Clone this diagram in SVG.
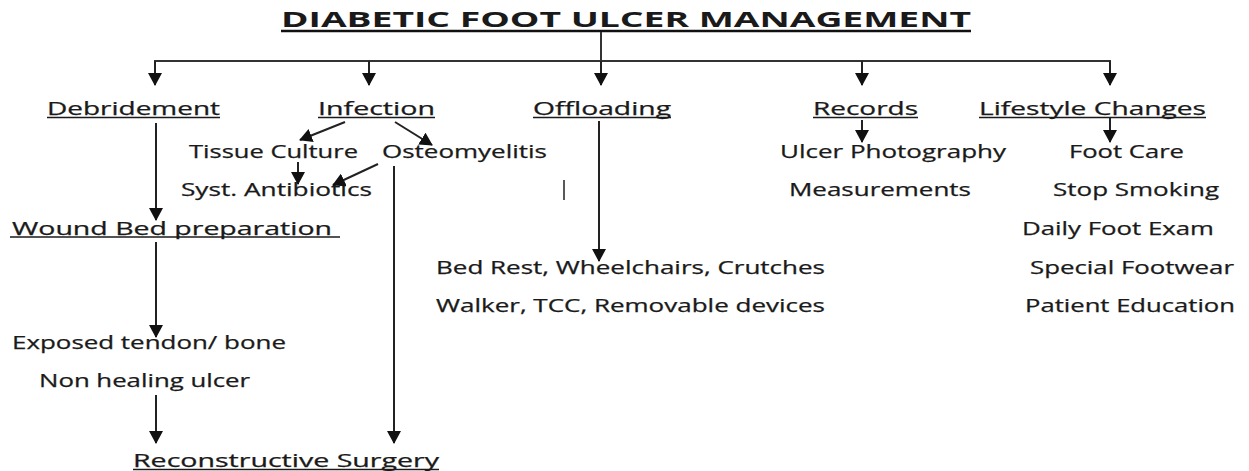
<svg xmlns="http://www.w3.org/2000/svg" width="1249" height="471" viewBox="0 0 1249 471">
<defs>
<style>
text{font-family:"Open Sans","Liberation Sans",sans-serif;fill:#1a1a1a;}
.t{font-size:18px;stroke:#1a1a1a;stroke-width:0.25;}
.h{font-size:22px;font-weight:bold;}
.ul{stroke:#1a1a1a;stroke-width:1.3;fill:none;}
.c{stroke:#222;stroke-width:2;fill:none;marker-end:url(#ah);}
.p{stroke:#333;stroke-width:2;fill:none;}
</style>
<marker id="ah" markerUnits="userSpaceOnUse" markerWidth="14" markerHeight="14" refX="12" refY="7" orient="auto">
<path d="M0,0 L13,7 L0,14 Z" fill="#111"/>
</marker>
</defs>
<rect width="1249" height="471" fill="#fff"/>

<g id="title">
<text class="h" x="281" y="27" textLength="690" lengthAdjust="spacingAndGlyphs">DIABETIC FOOT ULCER MANAGEMENT</text>
<line x1="281" y1="31" x2="971" y2="31" stroke="#111" stroke-width="2.4"/>
</g>

<g id="debridement">
<text class="t" x="47" y="115" textLength="173" lengthAdjust="spacingAndGlyphs">Debridement</text>
<line class="ul" x1="47" y1="117.5" x2="220" y2="117.5"/>
</g>
<g id="infection">
<text class="t" x="318" y="115" textLength="117" lengthAdjust="spacingAndGlyphs">Infection</text>
<line class="ul" x1="318" y1="117.5" x2="435" y2="117.5"/>
</g>
<g id="offloading">
<text class="t" x="533" y="115" textLength="138" lengthAdjust="spacingAndGlyphs">Offloading</text>
<line class="ul" x1="533" y1="117.5" x2="671" y2="117.5"/>
</g>
<g id="records">
<text class="t" x="813" y="115" textLength="105" lengthAdjust="spacingAndGlyphs">Records</text>
<line class="ul" x1="813" y1="117.5" x2="918" y2="117.5"/>
</g>
<g id="lifestyle">
<text class="t" x="979" y="115" textLength="227" lengthAdjust="spacingAndGlyphs">Lifestyle Changes</text>
<line class="ul" x1="979" y1="117.5" x2="1206" y2="117.5"/>
</g>

<g id="tissue-culture"><text class="t" x="189" y="157.5" textLength="169" lengthAdjust="spacingAndGlyphs">Tissue Culture</text></g>
<g id="osteomyelitis"><text class="t" x="382" y="157.5" textLength="165" lengthAdjust="spacingAndGlyphs">Osteomyelitis</text></g>
<g id="antibiotics"><text class="t" x="181" y="195.5" textLength="191" lengthAdjust="spacingAndGlyphs">Syst. Antibiotics</text></g>
<g id="ulcer-photography"><text class="t" x="780" y="157.5" textLength="226" lengthAdjust="spacingAndGlyphs">Ulcer Photography</text></g>
<g id="measurements"><text class="t" x="789" y="195.5" textLength="182" lengthAdjust="spacingAndGlyphs">Measurements</text></g>
<g id="foot-care"><text class="t" x="1069" y="157.5" textLength="115" lengthAdjust="spacingAndGlyphs">Foot Care</text></g>
<g id="stop-smoking"><text class="t" x="1053" y="195.5" textLength="166" lengthAdjust="spacingAndGlyphs">Stop Smoking</text></g>
<g id="daily-foot-exam"><text class="t" x="1022" y="235" textLength="192" lengthAdjust="spacingAndGlyphs">Daily Foot Exam</text></g>
<g id="special-footwear"><text class="t" x="1030" y="273.5" textLength="204" lengthAdjust="spacingAndGlyphs">Special Footwear</text></g>
<g id="patient-education"><text class="t" x="1025" y="311.5" textLength="210" lengthAdjust="spacingAndGlyphs">Patient Education</text></g>

<g id="wound-bed">
<text class="t" x="12" y="234.5" textLength="320" lengthAdjust="spacingAndGlyphs">Wound Bed preparation</text>
<line class="ul" x1="10" y1="237" x2="340" y2="237"/>
</g>
<g id="offloading-devices-1"><text class="t" x="436" y="273.5" textLength="389" lengthAdjust="spacingAndGlyphs">Bed Rest, Wheelchairs, Crutches</text></g>
<g id="offloading-devices-2"><text class="t" x="436" y="311.5" textLength="389" lengthAdjust="spacingAndGlyphs">Walker, TCC, Removable devices</text></g>
<g id="exposed"><text class="t" x="12" y="349" textLength="274" lengthAdjust="spacingAndGlyphs">Exposed tendon/ bone</text></g>
<g id="non-healing"><text class="t" x="39" y="386.5" textLength="211" lengthAdjust="spacingAndGlyphs">Non healing ulcer</text></g>
<g id="reconstructive">
<text class="t" x="133" y="466.5" textLength="306" lengthAdjust="spacingAndGlyphs">Reconstructive Surgery</text>
<line class="ul" x1="133" y1="469.5" x2="439" y2="469.5"/>
</g>

<g id="connectors">
<line class="p" x1="601" y1="32" x2="601" y2="61"/>
<line class="p" x1="154" y1="61" x2="1111" y2="61" stroke="#444"/>
<line class="c" x1="155" y1="61" x2="155" y2="85"/>
<line class="c" x1="369" y1="61" x2="369" y2="85"/>
<line class="c" x1="601" y1="61" x2="601" y2="85"/>
<line class="c" x1="862" y1="61" x2="862" y2="85"/>
<line class="c" x1="1110" y1="61" x2="1110" y2="85"/>
<line class="c" x1="156" y1="123" x2="156" y2="220"/>
<line class="c" x1="156" y1="242" x2="156" y2="337"/>
<line class="c" x1="156" y1="395" x2="156" y2="443"/>
<line class="c" x1="394" y1="166" x2="394" y2="443"/>
<line class="c" x1="345" y1="122" x2="300" y2="140"/>
<line class="c" x1="395" y1="122" x2="432" y2="145"/>
<line class="c" x1="298" y1="162" x2="298" y2="184"/>
<line class="c" x1="378" y1="164" x2="333" y2="185"/>
<line class="c" x1="599" y1="121" x2="599" y2="261"/>
<line class="c" x1="862" y1="120" x2="862" y2="142"/>
<line class="c" x1="1110" y1="118" x2="1110" y2="142"/>
<line x1="564" y1="180" x2="564" y2="200" stroke="#222" stroke-width="1.5"/>
</g>
</svg>
